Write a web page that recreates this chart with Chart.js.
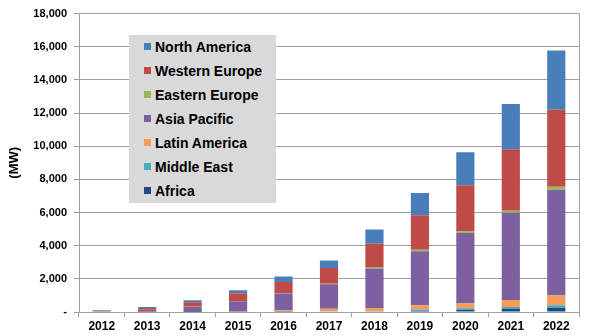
<!DOCTYPE html>
<html>
<head>
<meta charset="utf-8">
<script src="https://cdn.jsdelivr.net/npm/chart.js@4"></script>
<style>
  body { margin: 0; background: #fff; }
  #wrap { position: relative; width: 591px; height: 336px; }
  #legend {
    position: absolute; left: 129px; top: 35px; width: 147px; height: 168px;
    background: #d9d9d9; font: bold 14px "Liberation Sans", Arial, sans-serif; color: #000;
  }
  #legend div { position: relative; height: 24px; line-height: 24px; padding-left: 26px; }
  #legend span { position: absolute; left: 15px; top: 8px; width: 7px; height: 7px; }
</style>
</head>
<body>
<div id="wrap">
  <canvas id="barChart" width="591" height="336"></canvas>
  <div id="legend"></div>
</div>
<script>
var years = ["2012", "2013", "2014", "2015", "2016", "2017", "2018", "2019", "2020", "2021", "2022"];
var northAmerica  = [40, 60, 120, 180, 320, 460, 850, 1350, 2000, 2730, 3580];
var westernEurope = [30, 100, 270, 460, 690, 950, 1410, 2080, 2780, 3700, 4640];
var easternEurope = [0, 0, 5, 10, 15, 20, 80, 90, 100, 120, 180];
var asiaPacific   = [30, 130, 300, 610, 1000, 1480, 2390, 3260, 4240, 5270, 6390];
var latinAmerica  = [0, 5, 15, 30, 80, 150, 180, 250, 300, 420, 580];
var middleEast    = [0, 0, 0, 5, 10, 20, 30, 80, 90, 120, 170];
var africa        = [0, 0, 5, 10, 20, 30, 30, 70, 130, 180, 240];
var yTicks = [0, 2000, 4000, 6000, 8000, 10000, 12000, 14000, 16000, 18000];

// legend order, top to bottom
var series = [
  { label: "North America", color: "#4a7ebb", data: northAmerica },
  { label: "Western Europe", color: "#be4b48", data: westernEurope },
  { label: "Eastern Europe", color: "#98b954", data: easternEurope },
  { label: "Asia Pacific", color: "#7d60a0", data: asiaPacific },
  { label: "Latin America", color: "#f59d56", data: latinAmerica },
  { label: "Middle East", color: "#46aac5", data: middleEast },
  { label: "Africa", color: "#1f497d", data: africa }
];

var legend = document.getElementById("legend");
series.forEach(function (s) {
  var row = document.createElement("div");
  row.innerHTML = '<span style="background:' + s.color + '"></span>' + s.label;
  legend.appendChild(row);
});

// stacked bottom up
var datasets = series.slice().reverse().map(function (s) {
  return { label: s.label, data: s.data, backgroundColor: s.color, borderWidth: 0,
           barPercentage: 0.8, categoryPercentage: 0.5 };
});

var plotBorder = {
  id: "plotBorder",
  afterDraw: function (chart) {
    var a = chart.chartArea, ctx = chart.ctx;
    ctx.save();
    ctx.strokeStyle = "#a0a0a0";
    ctx.lineWidth = 1;
    ctx.beginPath();
    ctx.moveTo(Math.round(a.right) + 0.5, a.top);
    ctx.lineTo(Math.round(a.right) + 0.5, a.bottom);
    ctx.stroke();
    ctx.restore();
  }
};

new Chart(document.getElementById("barChart").getContext("2d"), {
  type: "bar",
  data: { labels: years, datasets: datasets },
  options: {
    responsive: false,
    animation: false,
    layout: { padding: { left: 0, right: 12, top: 10, bottom: 0 } },
    plugins: { legend: { display: false }, tooltip: { enabled: false } },
    scales: {
      x: {
        stacked: true,
        grid: { offset: true, drawOnChartArea: false, color: "#a0a0a0", tickLength: 5 },
        border: { color: "#a0a0a0" },
        ticks: { color: "#000", font: { family: "Liberation Sans", size: 12, weight: "bold" }, padding: 2 },
        afterFit: function (scale) { scale.height = 24; }
      },
      y: {
        stacked: true,
        min: 0, max: 18000,
        afterBuildTicks: function (scale) { scale.ticks = yTicks.map(function (v) { return { value: v }; }); },
        grid: { color: "#a0a0a0", tickLength: 5 },
        border: { color: "#a0a0a0" },
        ticks: {
          color: "#000", padding: 7,
          font: { family: "Liberation Sans", size: 11, weight: "bold" },
          callback: function (v) { return v === 0 ? "-" : v.toLocaleString("en-US"); }
        },
        title: { display: true, text: "(MW)", color: "#000", padding: { top: 7, bottom: 0 },
                 font: { family: "Liberation Sans", size: 13, weight: "bold" } },
        afterFit: function (scale) { scale.width = 79; }
      }
    }
  },
  plugins: [plotBorder]
});
</script>
</body>
</html>
